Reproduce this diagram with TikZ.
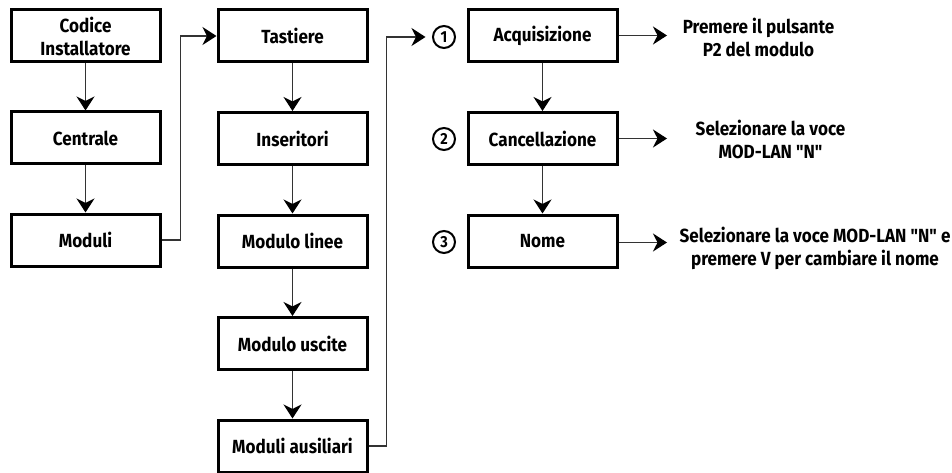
\documentclass[tikz,border=0pt]{standalone}
\usepackage{fontspec}
\setmainfont{Fira Sans}[FakeStretch=0.9, Ligatures=TeXOff]
\usetikzlibrary{arrows.meta}
\tikzset{
  box/.style={draw=black, line width=3pt, minimum width=149pt, minimum height=52pt, inner sep=0pt, align=center, font=\fontsize{19}{23}\selectfont\bfseries},
  num/.style={circle, draw=black, line width=2pt, minimum size=22pt, inner sep=0pt, font=\fontsize{16}{16}\selectfont\bfseries},
  arr/.style={draw=black!80, line width=1.4pt, -{Stealth[length=14pt,width=18pt,inset=4.5pt,color=black]}},
  lab/.style={align=center, font=\fontsize{19}{23}\selectfont\bfseries},
}
\begin{document}
\begin{tikzpicture}[x=1pt,y=-1pt]
\useasboundingbox (0,0) rectangle (952,473);
% column 1
\node[box] (ci) at (85.5,36) {Codice\\Installatore};
\node[box] (ce) at (85.5,138) {Centrale};
\node[box] (mo) at (85.5,240) {Moduli};
% column 2
\node[box] (ta) at (292.5,36) {Tastiere};
\node[box] (in) at (292.5,138.5) {Inseritori};
\node[box] (ml) at (292.5,241) {Modulo linee};
\node[box] (mu) at (292.5,343.5) {Modulo uscite};
\node[box] (ma) at (292.5,446) {Moduli ausiliari};
% column 3
\node[box] (ac) at (542.5,35.5) {Acquisizione};
\node[box] (ca) at (542.5,138.5) {Cancellazione};
\node[box] (no) at (542.5,241) {Nome};
\node[num] (n1) at (444,37) {1};
\node[num] (n2) at (444,139) {2};
\node[num] (n3) at (444,242) {3};
% labels
\node[lab] (l1) at (758.5,37) {Premere il pulsante\\P2 del modulo};
\node[lab] (l2) at (770.5,139.5) {Selezionare la voce\\MOD-LAN "N"};
\node[lab] (l3) at (815,248.5) {Selezionare la voce MOD-LAN "N" e\\premere V per cambiare il nome};
\coordinate (e1) at (667,35.5);
\coordinate (e2) at (667,138.5);
\coordinate (e3) at (667,242.5);
% connectors
\draw[arr] (ci) -- (ce);
\draw[arr] (ce) -- (mo);
\draw[arr] (mo.east) -- ++(19,0) |- (ta.west);
\draw[arr] (ta) -- (in);
\draw[arr] (in) -- (ml);
\draw[arr] (ml) -- (mu);
\draw[arr] (mu) -- (ma);
\draw[arr, shorten >=6.5pt] (ma.east) -- ++(18,0) |- (n1.west);
\draw[arr] (ac) -- (ca);
\draw[arr] (ca) -- (no);
\draw[arr] (ac.east) -- (e1);
\draw[arr] (ca.east) -- (e2);
\draw[arr] (no.east |- e3) -- (e3);
\end{tikzpicture}
\end{document}
